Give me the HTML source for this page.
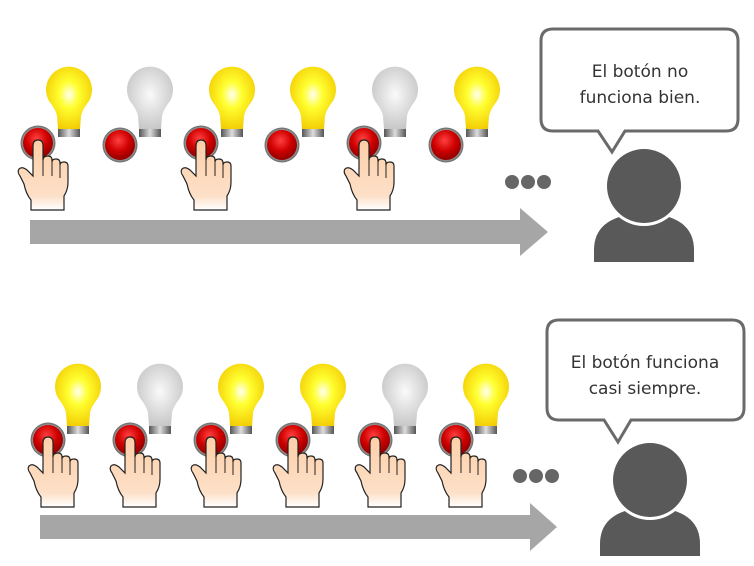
<!DOCTYPE html>
<html><head><meta charset="utf-8"><style>
html,body{margin:0;padding:0;background:#fff;}
svg{display:block;}
text{font-family:"DejaVu Sans","Liberation Sans",sans-serif;font-size:17px;fill:#333;}
</style></head><body>
<svg width="754" height="566" viewBox="0 0 754 566" xmlns="http://www.w3.org/2000/svg">
<defs>
<radialGradient id="yel" cx="0.5" cy="0.45" r="0.6"><stop offset="0" stop-color="#fffff0"/><stop offset="0.35" stop-color="#ffff30"/><stop offset="1" stop-color="#f2c800"/></radialGradient>
<radialGradient id="gry" cx="0.5" cy="0.45" r="0.6"><stop offset="0" stop-color="#fafafa"/><stop offset="0.4" stop-color="#e4e4e4"/><stop offset="1" stop-color="#c4c4c4"/></radialGradient>
<linearGradient id="base" x1="0" y1="0" x2="1" y2="0"><stop offset="0" stop-color="#555"/><stop offset="0.5" stop-color="#ddd"/><stop offset="1" stop-color="#555"/></linearGradient>
<radialGradient id="btn" cx="0.45" cy="0.35" r="0.6"><stop offset="0" stop-color="#ff4040"/><stop offset="0.6" stop-color="#d00000"/><stop offset="1" stop-color="#900"/></radialGradient>
<radialGradient id="ring" r="0.5"><stop offset="0.8" stop-color="#aaa"/><stop offset="1" stop-color="#666"/></radialGradient>
<linearGradient id="skin" x1="0" y1="0" x2="0" y2="1"><stop offset="0" stop-color="#fdcfa8"/><stop offset="0.8" stop-color="#fde0c8"/><stop offset="1" stop-color="#fff"/></linearGradient>
<g id="by">
<path d="M-20,15 A23,23 0 1 1 20,15 Q13,24 12,30 L11,43 L-11,43 L-12,30 Q-13,24 -20,15 Z" fill="url(#yel)"/>
<rect x="-11" y="43" width="22" height="8" fill="url(#base)"/>
</g>
<g id="bg">
<path d="M-20,15 A23,23 0 1 1 20,15 Q13,24 12,30 L11,43 L-11,43 L-12,30 Q-13,24 -20,15 Z" fill="url(#gry)"/>
<rect x="-11" y="43" width="22" height="8" fill="url(#base)"/>
</g>
<g id="btn1">
<circle r="17.5" fill="url(#ring)"/><circle r="15" fill="url(#btn)"/>
</g>
<g id="hand">
<path d="M-5,4 L-5,34 L-11,28 Q-16,24 -19,27 Q-21,30 -18,34 L-14,42 Q-12,52 -7,58 L-7,68 L26,68 L26,54 Q30,48 30,40 L30,24 Q30,20 26,20 Q22,20 22,23 L22,21 Q22,17 18,17 Q14,17 14,20 L14,18 Q14,14 10,14 Q5,14 5,18 L5,4 Q5,-2 0,-2 Q-5,-2 -5,4Z" fill="url(#skin)" stroke="#222" stroke-width="1.2"/>
<path d="M5,18 L5,34 M14,20 L14,34 M22,23 L22,36" stroke="#222" stroke-width="1" fill="none"/>
</g>
</defs>

<use href="#by" x="69" y="86"/>
<use href="#bg" x="150" y="86"/>
<use href="#by" x="232" y="86"/>
<use href="#by" x="313" y="86"/>
<use href="#bg" x="395" y="86"/>
<use href="#by" x="477" y="86"/>
<use href="#btn1" x="38" y="143"/><use href="#hand" x="38" y="142"/>
<use href="#btn1" x="120" y="145"/>
<use href="#btn1" x="201" y="143"/><use href="#hand" x="201" y="142"/>
<use href="#btn1" x="282" y="145"/>
<use href="#btn1" x="364" y="143"/><use href="#hand" x="364" y="142"/>
<use href="#btn1" x="446" y="145"/>

<circle cx="512" cy="182" r="7" fill="#666"/><circle cx="528" cy="182" r="7" fill="#666"/><circle cx="544" cy="182" r="7" fill="#666"/>
<path d="M30,220 L520,220 L520,208 L548,232 L520,256 L520,244 L30,244 Z" fill="#a6a6a6"/>

<path d="M553,29 L726,29 Q738,29 738,41 L738,119 Q738,131 726,131 L625,131 L612,152 L598,131 L553,131 Q541,131 541,119 L541,41 Q541,29 553,29 Z" fill="#fff" stroke="#6a6a6a" stroke-width="3"/>
<text x="640" y="77" text-anchor="middle">El botón no</text>
<text x="640" y="103" text-anchor="middle">funciona bien.</text>
<path d="M594,262 L594,250 Q594,215 644,213 Q694,215 694,250 L694,262 Z" fill="#595959"/>
<circle cx="644" cy="186" r="40" fill="#fff"/>
<circle cx="644" cy="186" r="37" fill="#595959"/>

<use href="#by" x="78" y="383"/>
<use href="#bg" x="160" y="383"/>
<use href="#by" x="241" y="383"/>
<use href="#by" x="323" y="383"/>
<use href="#bg" x="405" y="383"/>
<use href="#by" x="486" y="383"/>
<use href="#btn1" x="48" y="440"/><use href="#hand" x="48" y="439"/>
<use href="#btn1" x="130" y="440"/><use href="#hand" x="130" y="439"/>
<use href="#btn1" x="211" y="440"/><use href="#hand" x="211" y="439"/>
<use href="#btn1" x="293" y="440"/><use href="#hand" x="293" y="439"/>
<use href="#btn1" x="375" y="440"/><use href="#hand" x="375" y="439"/>
<use href="#btn1" x="456" y="440"/><use href="#hand" x="456" y="439"/>

<circle cx="520" cy="476" r="7" fill="#666"/><circle cx="536" cy="476" r="7" fill="#666"/><circle cx="552" cy="476" r="7" fill="#666"/>
<path d="M40,515 L530,515 L530,503 L557,527 L530,551 L530,539 L40,539 Z" fill="#a6a6a6"/>

<path d="M559,320 L732,320 Q744,320 744,332 L744,408 Q744,420 732,420 L631,420 L618,442 L604,420 L559,420 Q547,420 547,408 L547,332 Q547,320 559,320 Z" fill="#fff" stroke="#6a6a6a" stroke-width="3"/>
<text x="645" y="368" text-anchor="middle">El botón funciona</text>
<text x="645" y="394" text-anchor="middle">casi siempre.</text>
<path d="M600,556 L600,544 Q600,509 650,507 Q700,509 700,544 L700,556 Z" fill="#595959"/>
<circle cx="650" cy="480" r="40" fill="#fff"/>
<circle cx="650" cy="480" r="37" fill="#595959"/>
</svg>
</body></html>
